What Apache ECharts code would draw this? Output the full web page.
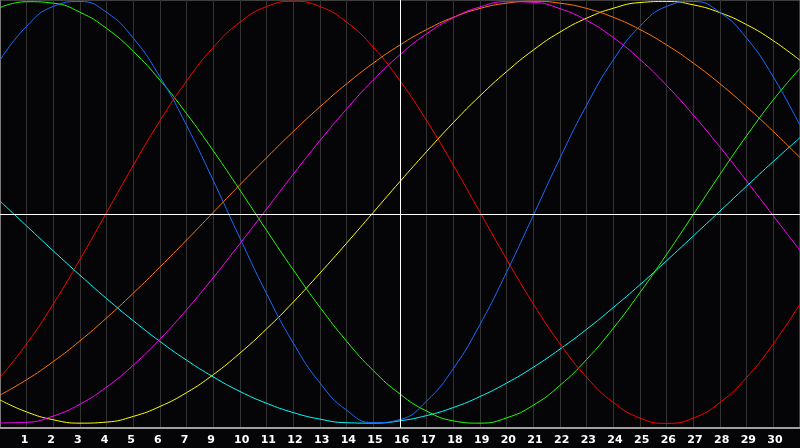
<!DOCTYPE html>
<html><head><meta charset="utf-8">
<script src="https://cdn.jsdelivr.net/npm/echarts@6/dist/echarts.min.js"></script>
<style>html,body{margin:0;padding:0;background:#050507;}#c{width:800px;height:448px;}</style>
</head><body><div id="c"></div>
<script>
const days = [0,1,2,3,4,5,6,7,8,9,10,11,12,13,14,15,16,17,18,19,20,21,22,23,24,25,26,27,28,29,30];
const tickPositions = [1,2,3,4,5,6,7,8,9,10,11,12,13,14,15,16,17,18,19,20,21,22,23,24,25,26,27,28,29];
const tickLabels = ['1','2','3','4','5','6','7','9','10','11','12','13','14','15','16','17','18','19','20','21','22','23','24','25','26','27','28','29','30'];

const redVals = [-0.782,-0.623,-0.434,-0.223,0,0.223,0.434,0.623,0.782,0.901,0.975,1,0.975,0.901,0.782,0.623,0.434,0.223,0,-0.223,-0.434,-0.623,-0.782,-0.901,-0.975,-1,-0.975,-0.901,-0.782,-0.623,-0.434];
const blueVals = [0.721,0.882,0.976,0.999,0.947,0.825,0.641,0.411,0.150,-0.123,-0.386,-0.620,-0.809,-0.938,-0.997,-0.982,-0.894,-0.740,-0.531,-0.283,-0.014,0.257,0.508,0.722,0.882,0.976,0.999,0.947,0.825,0.641,0.411];
const greenVals = [0.970,0.998,0.991,0.948,0.871,0.762,0.626,0.467,0.291,0.105,-0.086,-0.273,-0.450,-0.611,-0.750,-0.861,-0.942,-0.988,-0.999,-0.974,-0.914,-0.820,-0.697,-0.549,-0.380,-0.199,-0.010,0.180,0.363,0.533,0.683];
const magentaVals = [-0.998,-0.995,-0.965,-0.909,-0.828,-0.724,-0.601,-0.461,-0.309,-0.148,0.016,0.181,0.340,0.490,0.627,0.747,0.846,0.922,0.973,0.998,0.995,0.965,0.909,0.828,0.724,0.601,0.461,0.309,0.148,-0.017,-0.181];
const orangeVals = [-0.866,-0.793,-0.707,-0.609,-0.5,-0.383,-0.259,-0.131,0,0.131,0.259,0.383,0.5,0.609,0.707,0.793,0.866,0.924,0.966,0.991,1,0.991,0.966,0.924,0.866,0.793,0.707,0.609,0.5,0.383,0.259];
const yellowVals = [-0.889,-0.946,-0.983,-0.999,-0.994,-0.967,-0.920,-0.854,-0.769,-0.667,-0.552,-0.425,-0.288,-0.146,0,0.146,0.288,0.425,0.552,0.667,0.769,0.854,0.920,0.967,0.994,0.999,0.983,0.946,0.889,0.813,0.720];
const cyanVals = [0.053,-0.065,-0.183,-0.298,-0.409,-0.514,-0.612,-0.701,-0.780,-0.849,-0.905,-0.949,-0.980,-0.997,-0.999,-0.988,-0.963,-0.925,-0.873,-0.809,-0.734,-0.648,-0.554,-0.451,-0.343,-0.229,-0.112,0.006,0.124,0.241,0.354];

const centerDay = 15;
const zeroLevel = -0.008;

const seriesDefs = [
  {name:'cyan', color:'#00ffff', vals:cyanVals},
  {name:'yellow', color:'#ffff00', vals:yellowVals},
  {name:'orange', color:'#ff7a00', vals:orangeVals},
  {name:'magenta', color:'#ff00ff', vals:magentaVals},
  {name:'green', color:'#22ff00', vals:greenVals},
  {name:'red', color:'#ff0000', vals:redVals},
  {name:'blue', color:'#1a6cff', vals:blueVals}
];

const chart = echarts.init(document.getElementById('c'), null, {renderer:'canvas'});
const series = seriesDefs.map((s, i) => ({
  name: s.name, type: 'line', xAxisIndex: 0, yAxisIndex: 0,
  data: days.map((d, j) => [d, s.vals[j]]),
  smooth: true, symbol: 'none',
  lineStyle: {color: s.color, width: 1},
  z: 3
}));
series.unshift({
  type: 'line', xAxisIndex: 0, yAxisIndex: 0, data: [], z: 2,
  markLine: {
    silent: true, symbol: 'none', animation: false,
    label: {show: false},
    lineStyle: {color: '#ffffff', width: 1, type: 'solid'},
    data: [{xAxis: centerDay}, {yAxis: zeroLevel}]
  }
});

chart.setOption({
  animation: false,
  backgroundColor: '#050507',
  grid: {left: 0, right: 0, top: 0, bottom: 20, show: true, borderColor: '#7a7a7a', borderWidth: 1, backgroundColor: 'transparent'},
  xAxis: [
    {type: 'value', min: 0, max: 30, interval: 1,
     axisLine: {show: true, onZero: false, lineStyle: {color: '#a0a0a0', width: 2}},
     axisTick: {show: false}, axisLabel: {show: false},
     splitLine: {show: true, lineStyle: {color: '#333333', width: 1}}},
    {type: 'value', min: 0.225, max: 30.225, position: 'bottom',
     axisLine: {show: false}, axisTick: {show: false}, splitLine: {show: false},
     axisLabel: {show: true, customValues: tickPositions, align: 'left', margin: 7,
       color: '#ffffff', fontWeight: 'bold', fontSize: 11, fontFamily: 'DejaVu Sans',
       formatter: (v) => tickLabels[tickPositions.indexOf(v)]}}
  ],
  yAxis: {type: 'value', min: -1.022, max: 1.006,
    axisLine: {show: true, onZero: false, lineStyle: {color: '#7a7a7a'}},
    axisTick: {show: false}, axisLabel: {show: false}, splitLine: {show: false}},
  series: series
});
</script></body></html>
